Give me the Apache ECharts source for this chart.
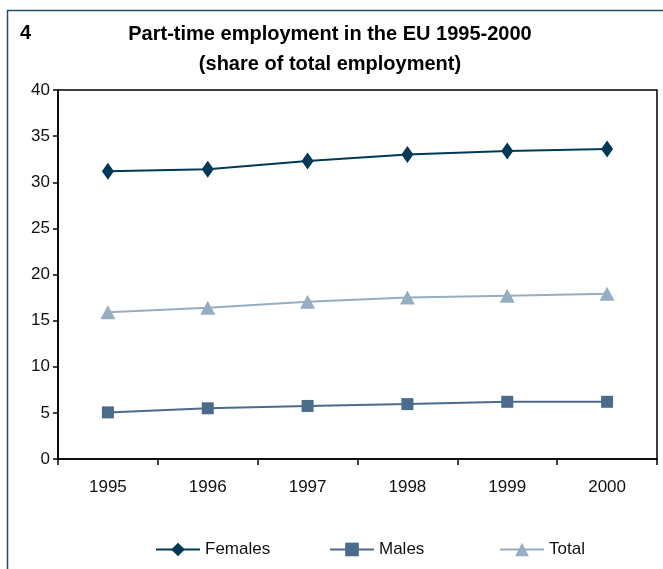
<!DOCTYPE html>
<html>
<head>
<meta charset="utf-8">
<script src="https://cdn.jsdelivr.net/npm/echarts@6/dist/echarts.min.js"></script>
<style>
  html, body { margin: 0; padding: 0; background: #fff; }
  #chart { width: 663px; height: 569px; }
</style>
</head>
<body>
<div id="chart"></div>
<script>
// chart data
var years = ['1995', '1996', '1997', '1998', '1999', '2000'];
var females = [31.2, 31.4, 32.3, 33.0, 33.4, 33.6];
var males = [5.05, 5.5, 5.75, 5.95, 6.2, 6.2];
var total = [15.9, 16.4, 17.05, 17.5, 17.7, 17.9];
var yTicks = [0, 5, 10, 15, 20, 25, 30, 35, 40];

var FONT = "'Liberation Sans', Arial, sans-serif";

var myChart = echarts.init(document.getElementById('chart'));

// one legend per series so each entry sits where the original puts it
function legendAt(name, left) {
    return {
        data: [name],
        left: left,
        bottom: 6,
        itemWidth: 44,
        itemHeight: 17,
        textStyle: { fontSize: 17, color: '#111', fontFamily: FONT }
    };
}

var option = {
    backgroundColor: '#fff',
    textStyle: { fontFamily: FONT },
    graphic: [
        // outer frame (left and top edges visible)
        { type: 'rect', shape: { x: 7.5, y: 10.5, width: 700, height: 600 },
          style: { fill: null, stroke: '#1f4f6e', lineWidth: 1.5 } },
        { type: 'text', left: 20, top: 23,
          style: { text: '4', font: 'bold 20px ' + FONT, fill: '#000' } },
        { type: 'text', x: 330, y: 19,
          style: { text: 'Part-time employment in the EU 1995-2000\n(share of total employment)',
                   font: 'bold 20px ' + FONT, fill: '#000', align: 'center', lineHeight: 30 } }
    ],
    legend: [
        legendAt('Females', 150),
        legendAt('Males', 324),
        legendAt('Total', 494)
    ],
    grid: {
        left: 58, right: 6, top: 90, bottom: 110,
        show: true, borderColor: '#000', borderWidth: 1.5
    },
    xAxis: {
        type: 'category',
        data: years,
        boundaryGap: true,
        axisLine: { lineStyle: { color: '#000', width: 1.5 } },
        axisTick: { show: true, length: 6, lineStyle: { color: '#000', width: 1.5 } },
        axisLabel: { fontSize: 17, color: '#111', margin: 20, fontFamily: FONT }
    },
    yAxis: {
        type: 'value',
        min: yTicks[0],
        max: yTicks[yTicks.length - 1],
        interval: 5,
        splitLine: { show: false },
        axisLine: { show: true, lineStyle: { color: '#000', width: 1.5 } },
        axisTick: { show: true, length: 5, lineStyle: { color: '#000', width: 1.5 } },
        axisLabel: { fontSize: 17, color: '#111', margin: 8, fontFamily: FONT }
    },
    series: [
        {
            name: 'Females', type: 'line', data: females,
            symbol: 'diamond', symbolSize: [12, 17],
            itemStyle: { color: '#003a57' },
            lineStyle: { color: '#003a57', width: 2 }
        },
        {
            name: 'Males', type: 'line', data: males,
            symbol: 'rect', symbolSize: 12,
            itemStyle: { color: '#4b6b8a' },
            lineStyle: { color: '#4b6b8a', width: 2 }
        },
        {
            name: 'Total', type: 'line', data: total,
            symbol: 'triangle', symbolSize: [15, 14],
            itemStyle: { color: '#97adc2' },
            lineStyle: { color: '#97adc2', width: 2 }
        }
    ]
};

myChart.setOption(option);
</script>
</body>
</html>
